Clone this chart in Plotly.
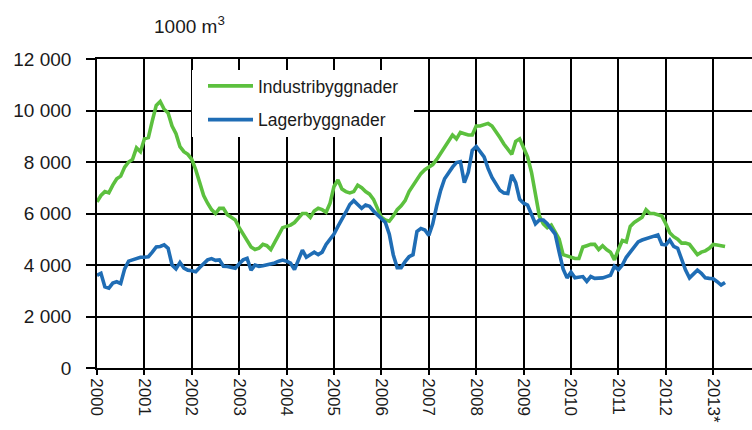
import plotly.graph_objects as go

# Monthly values, 1000 m3, Jan 2000 .. Apr 2013
years = list(range(2000, 2014))
tick_labels = [str(y) for y in range(2000, 2013)] + ["2013*"]

industri = [
    # 2000
    6450, 6700, 6850, 6800, 7100, 7350, 7450, 7800, 8000, 8100, 8550, 8400,
    # 2001
    8900, 8950, 9600, 10200, 10350, 10050, 9900, 9400, 9100, 8600, 8400, 8300,
    # 2002
    8100, 7700, 7200, 6700, 6400, 6150, 6000, 6200, 6200, 5950, 5850, 5750,
    # 2003
    5450, 5200, 4950, 4700, 4600, 4650, 4800, 4750, 4600, 4900, 5200, 5450,
    # 2004
    5500, 5550, 5650, 5850, 6000, 6000, 5850, 6100, 6200, 6150, 6050, 6400,
    # 2005
    7050, 7300, 6950, 6850, 6800, 6850, 7100, 7000, 6850, 6750, 6550, 6200,
    # 2006
    5850, 5750, 5700, 5900, 6150, 6300, 6500, 6850, 7100, 7350, 7550, 7700,
    # 2007
    7800, 7900, 8100, 8350, 8600, 8800, 9050, 8900, 9150, 9100, 9050, 9050,
    # 2008
    9400, 9400, 9450, 9500, 9400, 9200, 8950, 8700, 8500, 8300, 8800, 8900,
    # 2009
    8550, 8200, 7600, 6700, 5900, 5600, 5450, 5550, 5300, 5000, 4400, 4350,
    # 2010
    4300, 4250, 4250, 4700, 4750, 4800, 4800, 4600, 4750, 4600, 4500, 4200,
    # 2011
    4600, 4950, 4900, 5500, 5650, 5750, 5850, 6150, 6000, 6000, 5950, 5900,
    # 2012
    5600, 5250, 5100, 5000, 4850, 4850, 4800, 4600, 4400, 4500, 4550, 4650,
    # 2013
    4800, 4780, 4750, 4720,
]

lager = [
    # 2000
    3600, 3680, 3150, 3100, 3300, 3350, 3280, 3850, 4150, 4200, 4250, 4300,
    # 2001
    4300, 4320, 4500, 4700, 4720, 4780, 4650, 4000, 3850, 4100, 3880, 3800,
    # 2002
    3780, 3740, 3900, 4050, 4200, 4250, 4180, 4200, 3950, 3940, 3900, 3870,
    # 2003
    4050, 4200, 4260, 3800, 4000, 3950, 3970, 4000, 4050, 4080, 4150, 4190,
    # 2004
    4150, 4070, 3820, 4250, 4580, 4300, 4400, 4500, 4400, 4500, 4800, 5000,
    # 2005
    5200, 5500, 5750, 6050, 6350, 6500, 6350, 6200, 6330, 6280, 6100, 5950,
    # 2006
    5800, 5650, 5200, 4400, 3900, 3900, 4130, 4320, 4400, 5300, 5420, 5360,
    # 2007
    5150, 5600, 6300, 6900, 7350, 7600, 7800, 7980, 8010, 7200, 7600, 8450,
    # 2008
    8600, 8400, 8200, 7750, 7400, 7150, 6900, 6800, 6780, 7500, 7200, 6550,
    # 2009
    6400, 6330, 6000, 5600, 5750, 5750, 5600, 5400, 5200, 4500, 3850, 3500,
    # 2010
    3720, 3500, 3520, 3550, 3360, 3550, 3480, 3480, 3500, 3550, 3600, 3950,
    # 2011
    3820, 4000, 4300, 4500, 4700, 4900, 4970, 5020, 5080, 5120, 5170, 4800,
    # 2012
    4780, 4970, 4720, 4650, 4200, 3800, 3500, 3650, 3800, 3680, 3500, 3480,
    # 2013
    3470, 3350, 3220, 3320,
]

y_ticks = [0, 2000, 4000, 6000, 8000, 10000, 12000]

t_ind = [2000 + i / 12 for i in range(len(industri))]
t_lag = [2000 + i / 12 for i in range(len(lager))]

GREEN = "#5CC03E"
BLUE = "#1F6DB5"
FONT = "Liberation Sans, Arial, sans-serif"

fig = go.Figure()
fig.add_trace(go.Scatter(x=t_ind, y=industri, mode="lines", name="Industribyggnader",
                         legendgroup="a",
                         line=dict(color=GREEN, width=3.6)))
fig.add_trace(go.Scatter(x=t_lag, y=lager, mode="lines", name="Lagerbyggnader",
                         legendgroup="b",
                         line=dict(color=BLUE, width=3.6)))

W, H = 752, 430
ML, MR, MT, MB = 97, 0, 59, 62
pw = W - ML - MR
ph = H - MT - MB

def px_x(x):
    return (x - ML) / pw

def px_y(y):
    return 1 - (y - MT) / ph

# white legend box covering the grid
fig.add_shape(type="rect", xref="paper", yref="paper",
              x0=px_x(192), x1=px_x(414), y0=px_y(137), y1=px_y(70),
              fillcolor="white", line=dict(width=0), layer="above")

fig.add_annotation(text="1000 m<sup>3</sup>", xref="paper", yref="paper",
                   x=px_x(189), y=px_y(25), showarrow=False,
                   xanchor="center", yanchor="middle",
                   font=dict(size=19, color="#1a1a1a", family=FONT))

fig.update_layout(
    width=W, height=H,
    margin=dict(l=ML, r=MR, t=MT, b=MB),
    paper_bgcolor="white", plot_bgcolor="white",
    separators=", ",
    font=dict(family=FONT, color="#1a1a1a"),
    showlegend=True,
    legend=dict(x=px_x(203), y=px_y(68), xanchor="left", yanchor="top",
                bgcolor="rgba(0,0,0,0)", font=dict(size=17.5, color="#1a1a1a", family=FONT),
                tracegroupgap=8, itemwidth=45),
)

fig.update_xaxes(
    range=[2000, 2000 + (W - ML) / 47.4],
    tickmode="array", tickvals=years, ticktext=tick_labels,
    tickangle=90, ticks="outside", ticklen=5, tickwidth=1.5, tickcolor="black",
    showgrid=True, gridcolor="black", gridwidth=1.6,
    showline=True, linecolor="black", linewidth=1.6, mirror=True,
    zeroline=False,
    tickfont=dict(size=17, color="#1a1a1a", family=FONT),
)
fig.update_yaxes(
    range=[0, 12000],
    tickmode="array", tickvals=y_ticks,
    tickformat=",d",
    ticks="outside", ticklen=9, tickwidth=1.5, tickcolor="black",
    showgrid=True, gridcolor="black", gridwidth=1.6,
    showline=True, linecolor="black", linewidth=1.6,
    zeroline=False,
    ticklabelstandoff=11,
    tickfont=dict(size=19, color="#1a1a1a", family=FONT),
)

fig.write_html("out.html",
               config={"displayModeBar": False},
               post_script="document.body.style.margin='0';document.body.style.overflow='hidden';")
